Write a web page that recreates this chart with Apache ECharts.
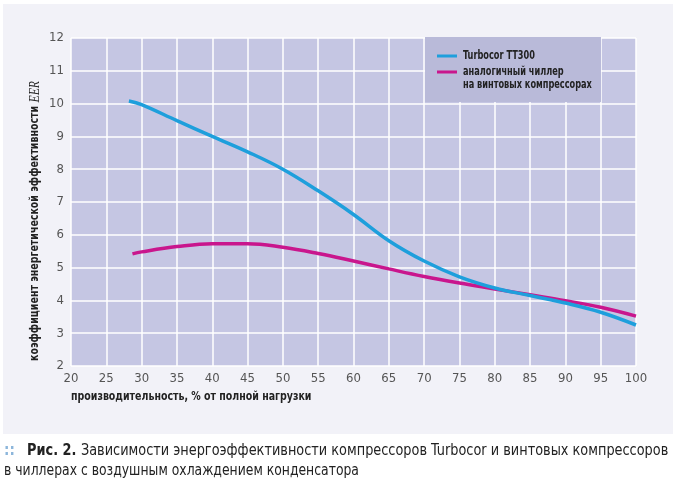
<!DOCTYPE html>
<html><head><meta charset="utf-8">
<script src="https://cdn.jsdelivr.net/npm/echarts@6/dist/echarts.min.js"></script>
<style>html,body{margin:0;padding:0;background:#fff}#c{width:673px;height:485px}</style>
</head><body><div id="c"></div>
<script>
const xTicks = [20,25,30,35,40,45,50,55,60,65,70,75,80,85,90,95,100];
const turboX = [28.2,30,35,40,45,50,55,60,65,70,75,80,85,90,95,100];
const turboY = [10.08,9.97,9.48,9.0,8.53,8.0,7.34,6.62,5.82,5.2,4.72,4.38,4.15,3.92,3.64,3.25];
const screwX = [28.7,30,35,40,45,50,55,60,65,70,75,80,85,90,95,100];
const screwY = [5.42,5.48,5.64,5.73,5.73,5.62,5.43,5.2,4.96,4.73,4.53,4.35,4.17,3.99,3.79,3.52];
const seriesNames = ['Turbocor TT300', 'аналогичный чиллер\nна винтовых компрессорах'];
const colors = ['#1e9fdc', '#c9168d'];
const FONT = '"Liberation Sans Narrow","DejaVu Sans Condensed","Roboto Condensed",sans-serif';

const chart = echarts.init(document.getElementById('c'), null, {renderer:'canvas'});
const pairs = (xs, ys) => xs.map((x,i)=>[x, ys[i]]);
chart.setOption({
  backgroundColor: '#ffffff',
  animation: false,
  grid: {left:71, right:37, top:38, bottom:119, show:true, backgroundColor:'#c5c6e3', borderWidth:0},
  xAxis: {type:'value', min:20, max:100, interval:5,
    axisLine:{show:false}, axisTick:{show:false},
    splitLine:{show:true, lineStyle:{color:'#ffffff', width:1.5}},
    axisLabel:{color:'#555', fontFamily:FONT, fontSize:13, margin:6}},
  yAxis: {type:'value', min:2, max:12, interval:1,
    axisLine:{show:false}, axisTick:{show:false},
    splitLine:{show:true, lineStyle:{color:'#ffffff', width:1.5}},
    axisLabel:{color:'#555', fontFamily:FONT, fontSize:13, margin:7}},
  series: [
    {name:seriesNames[1], type:'line', smooth:0.4, showSymbol:false, data:pairs(screwX, screwY),
     lineStyle:{color:colors[1], width:3.5}, z:3},
    {name:seriesNames[0], type:'line', smooth:0.4, showSymbol:false, data:pairs(turboX, turboY),
     lineStyle:{color:colors[0], width:3.5}, z:4}
  ],
  graphic: [
    {type:'rect', z:-10, silent:true, shape:{x:3, y:4, width:670, height:430}, style:{fill:'#f2f2f8'}},
    {type:'rect', z:50, shape:{x:425, y:37, width:176, height:65}, style:{fill:'#b9bad9'}},
    {type:'rect', z:51, shape:{x:437, y:54.5, width:20, height:3}, style:{fill:colors[0]}},
    {type:'rect', z:51, shape:{x:437, y:70.5, width:20, height:3}, style:{fill:colors[1]}},
    {type:'text', z:51, x:463, y:56, scaleX:0.76, style:{text:seriesNames[0], font:'bold 12px '+FONT, fill:'#222', verticalAlign:'middle'}},
    {type:'text', z:51, x:463, y:66, scaleX:0.76, style:{text:seriesNames[1], font:'bold 12px '+FONT, fill:'#222', lineHeight:12.5, verticalAlign:'top'}},
    {type:'text', z:51, x:71, y:397, scaleX:0.84, style:{text:'производительность, % от полной нагрузки', font:'bold 12.5px '+FONT, fill:'#222', verticalAlign:'middle'}},
    {type:'text', z:51, x:35, y:221, rotation:Math.PI/2, scaleX:0.84, style:{
      text:'{b|коэффициент энергетической эффективности }{i|EER}',
      align:'center', verticalAlign:'middle',
      rich:{b:{font:'bold 12.5px '+FONT, fill:'#222'}, i:{font:'italic 14px "Liberation Serif","DejaVu Serif",serif', fill:'#222'}}}},
    {type:'text', z:51, x:4, y:451, style:{text:'::', font:'bold 15px '+FONT, fill:'#8cb6db', verticalAlign:'middle'}},
    {type:'text', z:51, x:27, y:451, scaleX:0.925, style:{
      text:'{b|Рис. 2. }{r|Зависимости энергоэффективности компрессоров Turbocor и винтовых компрессоров}',
      verticalAlign:'middle',
      rich:{b:{font:'bold 15.5px '+FONT, fill:'#222'}, r:{font:'15.5px '+FONT, fill:'#222'}}}},
    {type:'text', z:51, x:4, y:471, scaleX:0.89, style:{text:'в чиллерах с воздушным охлаждением конденсатора', font:'15.5px '+FONT, fill:'#222', verticalAlign:'middle'}}
  ]
});
</script></body></html>
